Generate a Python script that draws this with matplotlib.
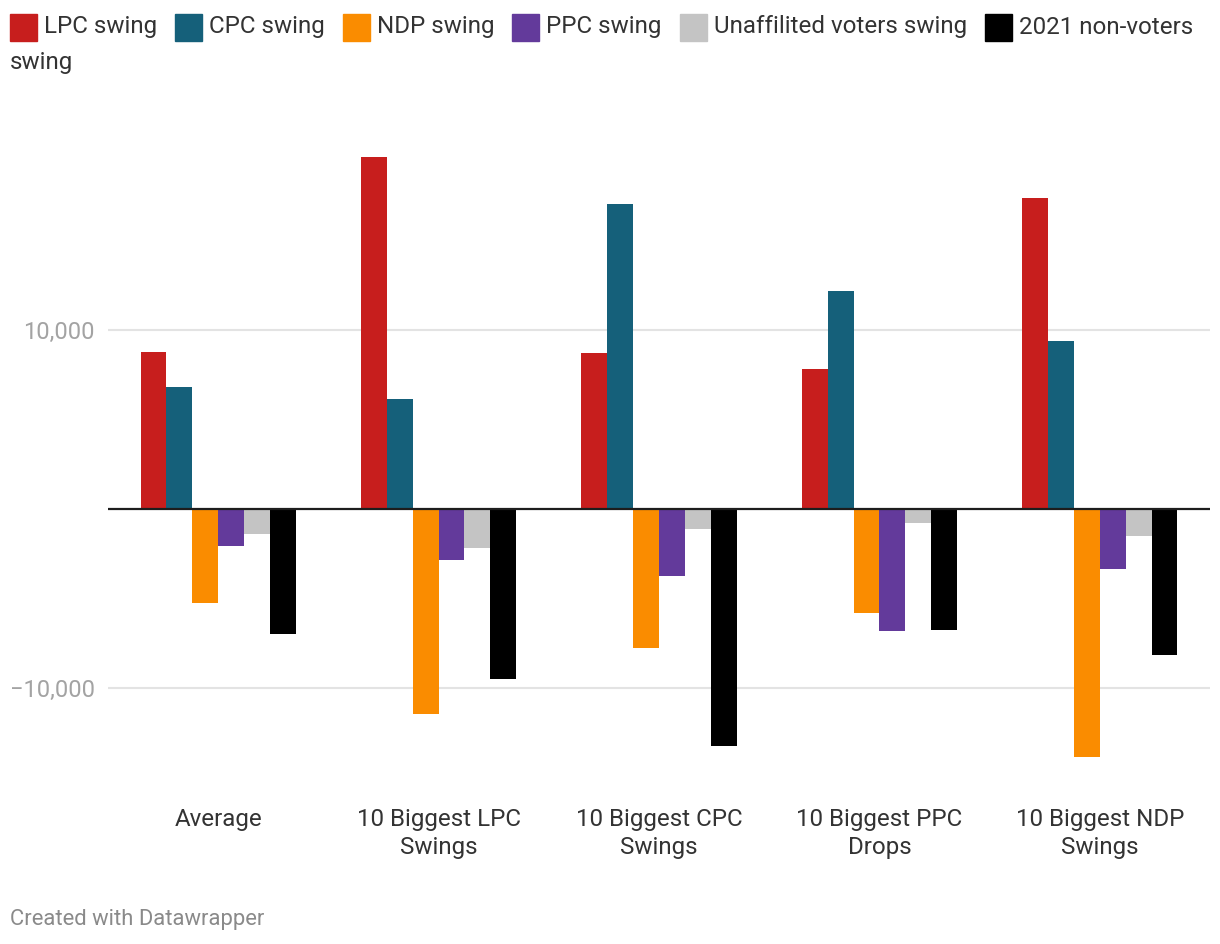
import matplotlib
matplotlib.use("Agg")
import matplotlib.pyplot as plt
import numpy as np
from matplotlib.patches import Rectangle

plt.rcParams['font.family'] = ['Roboto', 'DejaVu Sans']

categories = ["Average", "10 Biggest LPC\nSwings", "10 Biggest CPC\nSwings",
              "10 Biggest PPC\nDrops", "10 Biggest NDP\nSwings"]
series_names = ["LPC swing", "CPC swing", "NDP swing", "PPC swing",
                "Unaffilited voters swing", "2021 non-voters swing"]
colors = ["#c71e1d", "#15607a", "#fa8c00", "#633a9b", "#c4c4c4", "#000000"]

lpc = [8770, 19660, 8720, 7820, 17370]
cpc = [6820, 6150, 17040, 12180, 9390]
ndp = [-5250, -11450, -7770, -5810, -13860]
ppc = [-2070, -2850, -3740, -6820, -3350]
unaff = [-1400, -2180, -1120, -780, -1510]
nonvoters = [-6980, -9500, -13240, -6760, -8160]
values = [lpc, cpc, ndp, ppc, unaff, nonvoters]

yticks = [-10000, 10000]
ytick_labels = ["\u221210,000", "10,000"]

W, H = 1220, 944
fig = plt.figure(figsize=(W / 100, H / 100), dpi=100)
ax_left, ax_right, ax_top, ax_bottom = 108, 1210, 100, 790
ax = fig.add_axes([ax_left / W, 1 - ax_bottom / H, (ax_right - ax_left) / W, (ax_bottom - ax_top) / H])

y0_px = 509
scale = 179 / 10000
ax.set_ylim(-(ax_bottom - y0_px) / scale, (y0_px - ax_top) / scale)
ax.set_xlim(-0.5, len(categories) - 0.5)

x = np.arange(len(categories))
bw = 0.1175
n = len(values)
for i, (vals, c) in enumerate(zip(values, colors)):
    ax.bar(x + (i - (n - 1) / 2) * bw, vals, width=bw, color=c, linewidth=0, zorder=3)

for yt in yticks:
    ax.axhline(yt, color="#e3e3e3", linewidth=1.5, zorder=1)
ax.axhline(0, color="#1d1d1d", linewidth=1.6, zorder=4)

ax.set_yticks(yticks)
ax.set_yticklabels(ytick_labels, color="#a3a3a3", fontsize=17)
ax.tick_params(axis='y', length=0, pad=9.4)
ax.set_xticks(x)
ax.set_xticklabels(categories, color="#333333", fontsize=17.4, linespacing=1.3)
ax.tick_params(axis='x', length=0, pad=13)
for s in ax.spines.values():
    s.set_visible(False)

# legend, flowed left to right
fig.canvas.draw()
renderer = fig.canvas.get_renderer()
lx = 10
ly_top = 14
sq_w, sq_h = 27, 27
text_y = 27
fs = 17.4
for name, c in zip(series_names, colors):
    fig.patches.append(Rectangle((lx / W, 1 - (ly_top + sq_h) / H), sq_w / W, sq_h / H,
                                 transform=fig.transFigure, color=c, figure=fig))
    if name == "2021 non-voters swing":
        t = fig.text((lx + sq_w + 7) / W, 1 - text_y / H, "2021 non-voters", fontsize=fs,
                     color="#333333", va="center", ha="left")
        fig.text(10 / W, 1 - 63 / H, "swing", fontsize=fs, color="#333333", va="center", ha="left")
        break
    t = fig.text((lx + sq_w + 7) / W, 1 - text_y / H, name, fontsize=fs,
                 color="#333333", va="center", ha="left")
    bb = t.get_window_extent(renderer)
    lx = bb.x1 + 18

fig.text(10 / W, 1 - 919 / H, "Created with Datawrapper", fontsize=15.8, color="#8a8a8a",
         va="center", ha="left")

fig.savefig("out.png", dpi=100, facecolor="white")
